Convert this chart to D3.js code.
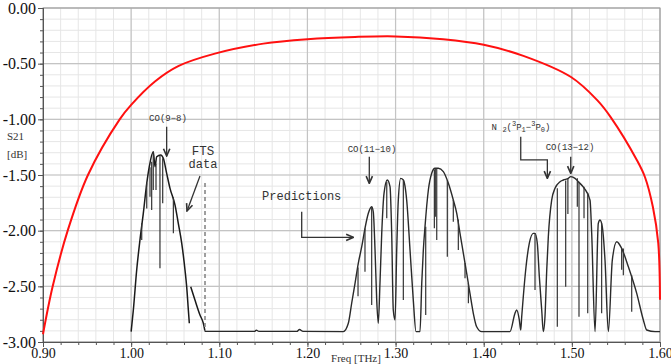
<!DOCTYPE html>
<html>
<head>
<meta charset="utf-8">
<script src="https://cdn.jsdelivr.net/npm/d3@7"></script>
<style>
  body { margin: 0; background: #fff; }
  svg { display: block; }
</style>
</head>
<body>
<svg id="chart"></svg>
<script>
// tick labels
const freqTicks = [0.9, 1.0, 1.1, 1.2, 1.3, 1.4, 1.5, 1.6];
const freqTickLabels = ["0.90", "1.00", "1.10", "1.20", "1.30", "1.40", "1.50", "1.60"];
const dbTicks = [0, -0.5, -1.0, -1.5, -2.0, -2.5, -3.0];
const dbTickLabels = ["0.00", "-0.50", "-1.00", "-1.50", "-2.00", "-2.50", "-3.00"];

// filter transmission (red)
const filterFreq = [0.900, 0.911, 0.928, 0.951, 0.987, 1.000, 1.027, 1.054, 1.095, 1.150, 1.200, 1.254,
  1.300, 1.354, 1.400, 1.445, 1.499, 1.529, 1.544, 1.574, 1.583, 1.592, 1.598, 1.600];
const filterDb = [-2.93, -2.50, -2.00, -1.50, -1.00, -0.87, -0.66, -0.52, -0.41, -0.32, -0.28, -0.26,
  -0.255, -0.28, -0.33, -0.43, -0.62, -0.83, -0.98, -1.37, -1.52, -1.79, -2.11, -2.62];

// FTS data envelope (null = gap)
const ftsFreq = [1.0000, 1.0025, 1.0063, 1.0100, 1.0138, 1.0177, 1.0206, 1.0251, 1.0271, 1.0290, 1.0335,
  1.0365, 1.0403, 1.0441, 1.0498, 1.0535, 1.0574, 1.0611, 1.0630, 1.0649, 1.0660,
  1.0668, 1.0676, 1.0724, 1.0781, 1.0819, 1.0838];
const ftsDb = [-2.907, -2.713, -2.353, -2.084, -1.845, -1.575, -1.425, -1.291, -1.425, -1.336, -1.320,
  -1.350, -1.485, -1.620, -1.770, -1.934, -2.114, -2.353, -2.503, -2.713, -2.832,
  null, -2.503, -2.623, -2.758, -2.832, -2.905];

// prediction envelope
const predFreq = [1.0838, 1.100, 1.140, 1.142, 1.145, 1.188, 1.191, 1.195, 1.2407,
  1.2464, 1.2502, 1.2540, 1.2577, 1.2616, 1.2653, 1.2691, 1.2729, 1.2747, 1.2767, 1.2786, 1.2804,
  1.2823, 1.2843, 1.2869, 1.2906, 1.2937, 1.2956, 1.2974, 1.2994,
  1.3013, 1.3031, 1.3058, 1.3088, 1.3126, 1.3164, 1.3201, 1.3232, 1.3277,
  1.3297, 1.3315, 1.3334, 1.3372, 1.3410, 1.3447, 1.3485, 1.3542, 1.3599, 1.3655, 1.3694, 1.3731,
  1.3769, 1.3807, 1.3844, 1.3882, 1.3920, 1.3977, 1.4298,
  1.4355, 1.4374, 1.4404, 1.4420, 1.4431, 1.4449, 1.4480, 1.4517, 1.4563, 1.4582, 1.4608, 1.4631,
  1.4658, 1.4676, 1.4695, 1.4715, 1.4733, 1.4771, 1.4809, 1.4866, 1.4903, 1.4960, 1.4987, 1.5036,
  1.5073, 1.5141, 1.5206, 1.5225, 1.5263, 1.5300, 1.5319, 1.5345, 1.5376, 1.5414,
  1.5459, 1.5509, 1.5565, 1.5641, 1.5736, 1.5811, 1.5849, 1.5944, 1.6000];
const predDb = [-2.905, -2.905, -2.905, -2.893, -2.905, -2.905, -2.888, -2.905, -2.907,
  -2.832, -2.652, -2.473, -2.293, -2.144, -1.979, -1.844, -1.785, -1.830, -2.174, -2.623, -2.832,
  -2.473, -2.024, -1.665, -1.545, -1.605, -2.024, -2.713, -2.802,
  -2.174, -1.725, -1.530, -1.545, -1.725, -2.174, -2.623, -2.907, -2.907,
  -2.473, -2.174, -1.964, -1.635, -1.485, -1.440, -1.440, -1.470, -1.575, -1.725, -1.844, -2.024,
  -2.203, -2.383, -2.563, -2.742, -2.863, -2.907, -2.907,
  -2.742, -2.713, -2.802, -2.892, -2.773, -2.593, -2.324, -2.114, -2.024, -2.024, -2.114, -2.413,
  -2.713, -2.907, -2.773, -2.353, -2.054, -1.725, -1.620, -1.560, -1.545, -1.530, -1.515, -1.530,
  -1.560, -1.620, -1.725, -2.024, -2.907, -1.934, -1.904, -1.964, -2.264, -2.907,
  -2.264, -2.099, -2.159, -2.324, -2.563, -2.802, -2.892, -2.907, -2.907];

// narrow absorption lines: frequency, top and bottom of each line
const lineFreq = [1.0120, 1.0177, 1.0214, 1.0233, 1.0251, 1.0282, 1.0327, 1.0358, 1.0479,
  1.2574, 1.2653, 1.2729, 1.2900, 1.3088, 1.3342, 1.3440, 1.3451, 1.3467, 1.3587, 1.3655, 1.3712,
  1.3788, 1.3826, 1.4582, 1.4835, 1.4930, 1.4955, 1.5062, 1.5081, 1.5138, 1.5180, 1.5338,
  1.5565, 1.5584, 1.5679];
const lineTop = [-1.934, -1.575, -1.430, -1.380, -1.290, -1.400, -1.330, -1.350, -1.700,
  -2.330, -1.980, -1.790, -1.560, -1.550, -1.964, -1.450, -1.440, -1.440, -1.550, -1.725, -1.900,
  -2.290, -2.470, -2.024, -1.620, -1.550, -1.530, -1.530, -1.560, -1.605, -1.660, -1.934,
  -2.160, -2.160, -2.400];
const lineBottom = [-2.084, -1.800, -1.695, -1.814, -1.635, -1.635, -2.338, -1.754, -2.024,
  -2.590, -2.370, -2.668, -1.889, -2.623, -2.758, -1.979, -1.874, -2.084, -2.234, -1.919, -2.174,
  -2.428, -2.652, -2.533, -2.863, -2.503, -1.850, -1.785, -2.773, -1.889, -2.742, -2.742,
  -2.350, -2.400, -2.728];

const width = 671, height = 364;
const margin = { top: 8, right: 11, bottom: 22, left: 43 };

const svg = d3.select("#chart").attr("width", width).attr("height", height);

const x = d3.scaleLinear().domain([0.9, 1.6]).range([margin.left, width - margin.right]);
const y = d3.scaleLinear().domain([-3, 0]).range([height - margin.bottom, margin.top]);

// grid
const minorX = d3.range(0, 36).map((i) => 0.9 + i * 0.02);
const minorY = d3.range(0, 31).map((i) => -i * 0.1);
const $grid = svg.append("g");
$grid.selectAll(".gx").data(minorX).enter().append("line")
  .attr("x1", (d) => x(d)).attr("x2", (d) => x(d))
  .attr("y1", y(0)).attr("y2", y(-3))
  .attr("stroke", "#e6e6e6").attr("stroke-width", 1);
$grid.selectAll(".gy").data(minorY).enter().append("line")
  .attr("y1", (d) => y(d)).attr("y2", (d) => y(d))
  .attr("x1", x(0.9)).attr("x2", x(1.6))
  .attr("stroke", "#e6e6e6").attr("stroke-width", 1);
$grid.selectAll(".Gx").data(freqTicks).enter().append("line")
  .attr("x1", (d) => x(d)).attr("x2", (d) => x(d))
  .attr("y1", y(0)).attr("y2", y(-3))
  .attr("stroke", "#c4c4c4").attr("stroke-width", 1.2);
$grid.selectAll(".Gy").data(dbTicks).enter().append("line")
  .attr("y1", (d) => y(d)).attr("y2", (d) => y(d))
  .attr("x1", x(0.9)).attr("x2", x(1.6))
  .attr("stroke", "#c4c4c4").attr("stroke-width", 1.2);

// frame
svg.append("rect")
  .attr("x", x(0.9)).attr("y", y(0))
  .attr("width", x(1.6) - x(0.9)).attr("height", y(-3) - y(0))
  .attr("fill", "none").attr("stroke", "#9a9a9a");

// axes
const $xMinor = svg.append("g").attr("transform", `translate(0,${y(-3)})`)
  .call(d3.axisBottom(x).tickValues(minorX).tickSize(3).tickFormat(""));
const $xAxis = svg.append("g").attr("transform", `translate(0,${y(-3)})`)
  .call(d3.axisBottom(x).tickValues(freqTicks).tickSize(5).tickPadding(1)
    .tickFormat((d, i) => freqTickLabels[i]));
const $yMinor = svg.append("g").attr("transform", `translate(${x(0.9)},0)`)
  .call(d3.axisLeft(y).tickValues(minorY).tickSize(3).tickFormat(""));
const $yAxis = svg.append("g").attr("transform", `translate(${x(0.9)},0)`)
  .call(d3.axisLeft(y).tickValues(dbTicks).tickSize(5).tickPadding(2)
    .tickFormat((d, i) => dbTickLabels[i]));
[$xMinor, $xAxis, $yMinor, $yAxis].forEach(($a) => {
  $a.selectAll("path,line").attr("stroke", "#555");
});
$xAxis.selectAll("text").style("font-family", "'Liberation Serif', serif").style("font-size", "14px").attr("fill", "#111");
$yAxis.selectAll("text").style("font-family", "'Liberation Serif', serif").style("font-size", "16px").attr("fill", "#111");

// axis titles
const serif = "'Liberation Serif', serif";
svg.append("text").attr("x", 7).attr("y", 140).text("S21")
  .style("font-family", serif).style("font-size", "11px").attr("fill", "#333");
svg.append("text").attr("x", 7).attr("y", 158).text("[dB]")
  .style("font-family", serif).style("font-size", "11px").attr("fill", "#333");
svg.append("text").attr("x", 356).attr("y", 362).attr("text-anchor", "middle").text("Freq [THz]")
  .style("font-family", serif).style("font-size", "11px").attr("fill", "#333");

// filter curve
const filterLine = d3.line().x((d) => x(d[0])).y((d) => y(d[1])).curve(d3.curveCatmullRom.alpha(0.5));
svg.append("path")
  .datum(filterFreq.map((f, i) => [f, filterDb[i]]))
  .attr("d", filterLine)
  .attr("fill", "none").attr("stroke", "#ff1010").attr("stroke-width", 2);

// spectra
const specLine = d3.line()
  .defined((d) => d[1] !== null)
  .x((d) => x(d[0])).y((d) => y(d[1]))
  .curve(d3.curveMonotoneX);
svg.append("path")
  .datum(ftsFreq.map((f, i) => [f, ftsDb[i]]))
  .attr("d", specLine)
  .attr("fill", "none").attr("stroke", "#1a1a1a").attr("stroke-width", 1.5);
svg.append("path")
  .datum(predFreq.map((f, i) => [f, predDb[i]]))
  .attr("d", specLine)
  .attr("fill", "none").attr("stroke", "#2a2a2a").attr("stroke-width", 1.4);
svg.append("g").selectAll("line")
  .data(lineFreq.map((f, i) => [f, lineTop[i], lineBottom[i]]))
  .enter().append("line")
  .attr("x1", (d) => x(d[0])).attr("x2", (d) => x(d[0]))
  .attr("y1", (d) => y(d[1])).attr("y2", (d) => y(d[2]))
  .attr("stroke", "#333").attr("stroke-width", 1.2);

// FTS band edge (dashed)
svg.append("line")
  .attr("x1", x(1.0838)).attr("x2", x(1.0838))
  .attr("y1", y(-1.572)).attr("y2", y(-2.90))
  .attr("stroke", "#888").attr("stroke-width", 1.6).attr("stroke-dasharray", "4,3");

// annotations
svg.append("defs").append("marker")
  .attr("id", "arr").attr("viewBox", "0 0 10 10")
  .attr("refX", 9).attr("refY", 5)
  .attr("markerWidth", 9).attr("markerHeight", 9)
  .attr("markerUnits", "userSpaceOnUse").attr("orient", "auto")
  .append("path").attr("d", "M1,1.5 L9,5 L1,8.5")
  .attr("fill", "none").attr("stroke", "#333").attr("stroke-width", 1.8);

const mono = "'Liberation Mono', 'Courier New', monospace";
const labels = [
  { t: "CO(9\u22128)", f: 1.0418, db: -1.015, size: 9 },
  { t: "FTS", f: 1.0815, db: -1.318, size: 12.5 },
  { t: "data", f: 1.0815, db: -1.44, size: 12 },
  { t: "Predictions", f: 1.1935, db: -1.725, size: 12 },
  { t: "CO(11\u221210)", f: 1.2733, db: -1.290, size: 9 },
  { t: "CO(13\u221212)", f: 1.4979, db: -1.275, size: 9 },
];
labels.forEach((l) => {
  svg.append("text").attr("x", x(l.f)).attr("y", y(l.db))
    .attr("text-anchor", "middle").text(l.t)
    .style("font-family", mono).style("font-size", `${l.size}px`).attr("fill", "#333");
});

// N2(3P1-3P0)
const $n2 = svg.append("text").attr("x", x(1.4423)).attr("y", y(-1.096))
  .attr("text-anchor", "middle")
  .style("font-family", mono).style("font-size", "9px").attr("fill", "#333");
[["N ", 0], ["2", 2], ["(", 0], ["3", -4], ["P", 0], ["1", 2], ["\u2212", 0], ["3", -4], ["P", 0], ["0", 2], [")", 0]]
  .forEach(([s, shift], i, arr) => {
    const prev = i > 0 ? arr[i - 1][1] : 0;
    $n2.append("tspan").attr("dy", shift - prev)
      .style("font-size", shift !== 0 ? "7px" : "9px").text(s);
  });

const arrows = [
  [[1.0403, -1.066], [1.0403, -1.329]],
  [[1.0781, -1.509], [1.0634, -1.823]],
  [[1.1935, -1.830], [1.1935, -2.060], [1.2521, -2.060]],
  [[1.2702, -1.336], [1.2702, -1.575]],
  [[1.4420, -1.156], [1.4420, -1.365], [1.4722, -1.365], [1.4722, -1.530]],
  [[1.4987, -1.336], [1.4987, -1.485]],
];
const arrowLine = d3.line().x((d) => x(d[0])).y((d) => y(d[1]));
arrows.forEach((a) => {
  svg.append("path").attr("d", arrowLine(a))
    .attr("fill", "none").attr("stroke", "#333").attr("stroke-width", 1.3)
    .attr("marker-end", "url(#arr)");
});
</script>
</body>
</html>
